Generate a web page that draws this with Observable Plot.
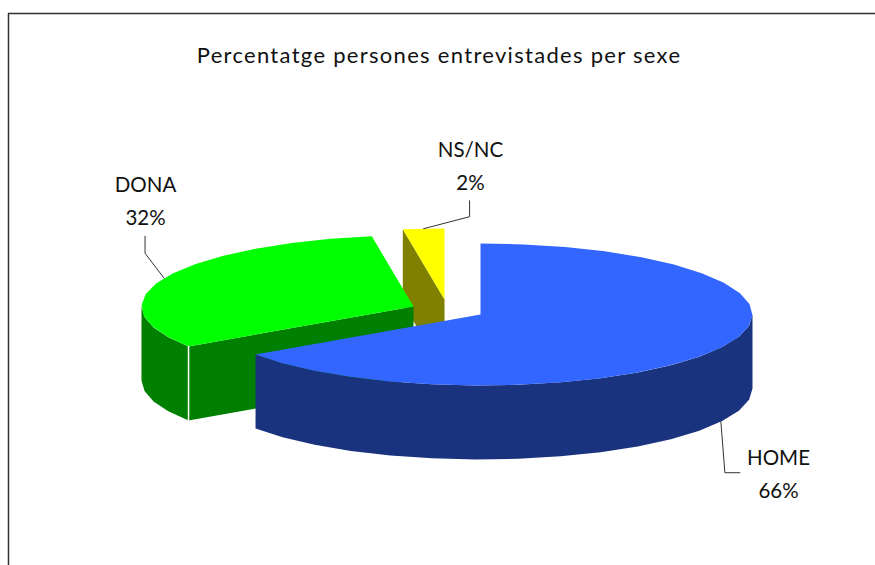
<!DOCTYPE html>
<html>
<head>
<meta charset="utf-8">
<script src="https://cdn.jsdelivr.net/npm/d3@7"></script>
<script src="https://cdn.jsdelivr.net/npm/@observablehq/plot@0.6"></script>
<style>html,body{margin:0;padding:0;background:#fff;overflow:hidden}svg{display:block}</style>
</head>
<body>
<div id="chart"></div>
<script>
const chartTitle = "Percentatge persones entrevistades per sexe";
const categories = ["HOME", "DONA", "NS/NC"];
const shares = [65.5, 32.05, 2.45];

// Layout of the exploded 3D pie (chart units = pixels)
const apexX = [480, 413, 444];
const apexY = [314, 306, 299];
const topColors = ["#3366FF", "#00FF00", "#FFFF00"];
const sideColors = ["#1A337F", "#007F00", "#7F7F00"];
const rx = 272, ry = 71, depth = 74, stepDeg = 9;
const labelX = [778, 145, 470];
const labelY = [458, 185, 150];
const lineGap = 33;
const leaderOffsets = [
  [[4, 51], [19, 51]],
  [[-19, -25], [-19, -42]],
  [[46, -12], [46, -28]]
];

let cum = 0;
const slices = categories.map((name, i) => {
  const a0 = cum * 3.6; cum += shares[i]; const a1 = cum * 3.6;
  return {name, i, a0, a1, pct: Math.round(shares[i]) + "%"};
});
const rim = (s, deg, dz = 0) => {
  const t = deg * Math.PI / 180;
  return {x: apexX[s.i] + rx * Math.sin(t), y: apexY[s.i] - ry * Math.cos(t) + dz};
};
const arc = (s, a, b, dz = 0) => {
  const n = Math.max(1, Math.round(Math.abs(b - a) / stepDeg));
  return d3.range(n + 1).map(k => rim(s, a + (b - a) * k / n, dz));
};
const apex = (s, dz = 0) => ({x: apexX[s.i], y: apexY[s.i] + dz});
const topFace = s => [apex(s), ...arc(s, s.a0, s.a1)];
const outerWall = (s, a, b) => [...arc(s, a, b), ...arc(s, b, a, depth)];
const cutWall = (s, deg) => [apex(s), rim(s, deg), rim(s, deg, depth), apex(s, depth)];

const poly = (pts, fill) => Plot.line(pts, {x: "x", y: "y", fill, stroke: "none", curve: "linear-closed"});
const [home, dona, nsnc] = slices;

const leaders = slices.map(s => {
  const mid = (s.a0 + s.a1) / 2;
  const start = rim(s, mid, s.i === 0 ? depth : 0);
  return [start, ...leaderOffsets[s.i].map(([dx, dy]) => ({x: start.x + dx, y: start.y + dy}))];
});

const labelRows = slices.flatMap(s => [
  {x: labelX[s.i], y: labelY[s.i], text: s.name},
  {x: labelX[s.i], y: labelY[s.i] + lineGap, text: s.pct}
]);

const frame = [{x: 8, y: 565}, {x: 8, y: 13}, {x: 875, y: 13}];

const plot = Plot.plot({
  width: 875, height: 565,
  margin: 0,
  x: {domain: [0, 875], range: [0, 875], axis: null},
  y: {domain: [0, 565], range: [0, 565], axis: null},
  style: {background: "#fff", fontFamily: "Lato, sans-serif"},
  marks: [
    Plot.line(frame, {x: "x", y: "y", stroke: "#333", strokeWidth: 1.5}),
    // NS/NC
    poly(cutWall(nsnc, nsnc.a0), sideColors[2]),
    poly(topFace(nsnc), topColors[2]),
    // DONA
    poly(outerWall(dona, dona.a0, 270), sideColors[1]),
    poly(cutWall(dona, dona.a0), sideColors[1]),
    poly(topFace(dona), topColors[1]),
    Plot.line([rim(dona, dona.a0), rim(dona, dona.a0, depth)], {x: "x", y: "y", stroke: "#fff", strokeWidth: 1.5}),
    // HOME
    poly(outerWall(home, 90, home.a1), sideColors[0]),
    poly(topFace(home), topColors[0]),
    // Leaders and labels
    ...leaders.map(l => Plot.line(l, {x: "x", y: "y", stroke: "#333", strokeWidth: 1})),
    Plot.text(labelRows, {x: "x", y: "y", text: "text", fontSize: 20.5, fill: "#111"}),
    Plot.text([chartTitle], {
      x: () => 438.5, y: () => 55, text: d => d, fontSize: 22, fill: "#111",
      render(index, scales, values, dimensions, context, next) {
        const g = next(index, scales, values, dimensions, context);
        g.style.letterSpacing = "1.3px";
        return g;
      }
    })
  ]
});
document.getElementById("chart").append(plot);
</script>
</body>
</html>
